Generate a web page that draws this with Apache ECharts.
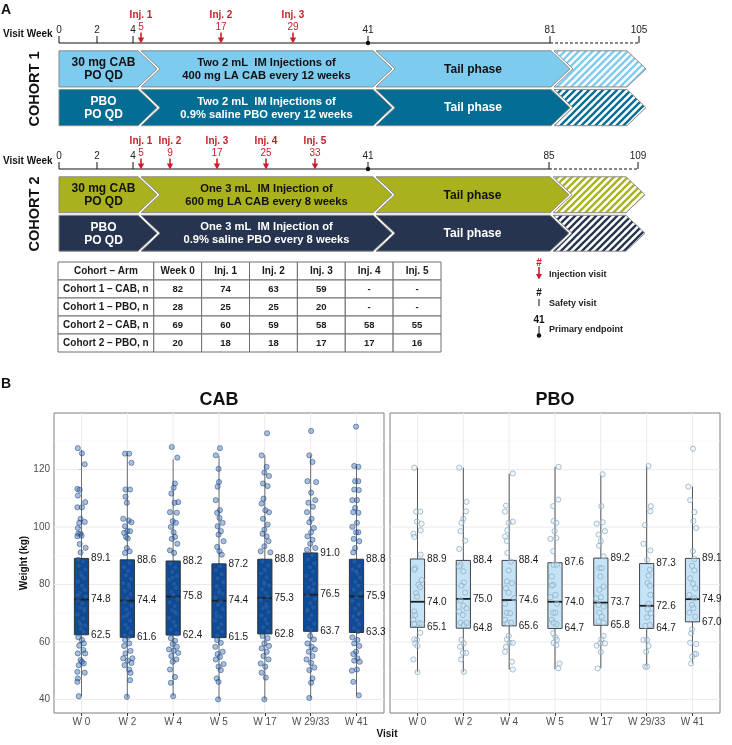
<!DOCTYPE html>
<html><head><meta charset="utf-8">
<script src="https://cdn.jsdelivr.net/npm/echarts@6/dist/echarts.min.js"></script>
<style>html,body{margin:0;padding:0;background:#fff}#c{width:732px;height:745px}</style>
</head><body><div id="c"></div>
<script>
// ================= DATA =================
// Panel A – study schema
const c1VisitWeeks = [0, 2, 4, 5, 17, 29, 41, 81, 105];
const c1VisitKinds = ['safety','safety','safety','inj','inj','inj','primary','end','end'];
const c2VisitWeeks = [0, 2, 4, 5, 9, 17, 25, 33, 41, 85, 109];
const c2VisitKinds = ['safety','safety','safety','inj','inj','inj','inj','inj','primary','end','end'];
const c1PhaseEnds = [5, 41, 81, 105];
const c2PhaseEnds = [5, 41, 85, 109];
const c1CabText = ['30 mg CAB\nPO QD', 'Two 2 mL  IM Injections of\n400 mg LA CAB every 12 weeks', 'Tail phase', ''];
const c1PboText = ['PBO\nPO QD', 'Two 2 mL  IM Injections of\n0.9% saline PBO every 12 weeks', 'Tail phase', ''];
const c2CabText = ['30 mg CAB\nPO QD', 'One 3 mL  IM Injection of\n600 mg LA CAB every 8 weeks', 'Tail phase', ''];
const c2PboText = ['PBO\nPO QD', 'One 3 mL  IM Injection of\n0.9% saline PBO every 8 weeks', 'Tail phase', ''];

// Panel A – table
const tableHeader = ['Cohort \u2013 Arm', 'Week 0', 'Inj. 1', 'Inj. 2', 'Inj. 3', 'Inj. 4', 'Inj. 5'];
const tableArms = ['Cohort 1 \u2013 CAB, n', 'Cohort 1 \u2013 PBO, n', 'Cohort 2 \u2013 CAB, n', 'Cohort 2 \u2013 PBO, n'];
const nC1Cab = [82, 74, 63, 59, null, null];
const nC1Pbo = [28, 25, 25, 20, null, null];
const nC2Cab = [69, 60, 59, 58, 58, 55];
const nC2Pbo = [20, 18, 18, 17, 17, 16];

// Panel B – weight boxplots
const visits = ['W 0', 'W 2', 'W 4', 'W 5', 'W 17', 'W 29/33', 'W 41'];
const yTicks = [40, 60, 80, 100, 120];
const yMinorTicks = [50, 70, 90, 110, 130];
const cabQ1  = [62.5, 61.6, 62.4, 61.5, 62.8, 63.7, 63.3];
const cabMed = [74.8, 74.4, 75.8, 74.4, 75.3, 76.5, 75.9];
const cabQ3  = [89.1, 88.6, 88.2, 87.2, 88.8, 91.0, 88.8];
const cabLo  = [41.1, 40.7, 41.1, 40.0, 40.0, 40.4, 41.4];
const cabHi  = [126.9, 125.6, 123.6, 124.8, 125.0, 125.0, 121.3];
const pboQ1  = [65.1, 64.8, 65.6, 64.7, 65.8, 64.7, 67.0];
const pboMed = [74.0, 75.0, 74.6, 74.0, 73.7, 72.6, 74.9];
const pboQ3  = [88.9, 88.4, 88.4, 87.6, 89.2, 87.3, 89.1];
const pboLo  = [49.5, 49.5, 50.4, 50.5, 50.8, 51.4, 52.5];
const pboHi  = [120.7, 120.7, 118.6, 121.0, 118.1, 121.3, 114.1];

// jittered individual weights: [jitter offset (category units), weight kg]
const cabPtsW0 = [[-0.08,127.5],[0.01,125.7],[0.07,121.9],[-0.09,113.3],[-0.04,113.0],[-0.08,111.0],[0.08,108.7],[-0.09,106.9],[0.01,106.9],[-0.02,102.9],[0.07,101.8],[-0.05,101.5],[-0.08,99.7],[-0.07,97.7],[-0.02,97.7],[0.0,97.0],[-0.09,96.8],[-0.04,94.1],[0.09,92.8],[-0.02,91.2],
 [-0.07,61.6],[0.01,60.7],[0.05,59.5],[-0.05,58.7],[0.04,57.2],[-0.08,56.0],[0.08,56.0],[-0.02,53.7],[0.01,53.1],[-0.06,51.9],[0.05,52.5],[-0.09,49.6],[0.07,49.3],[-0.08,47.3],[-0.09,46.1],[-0.06,41.1],
 [0.03,88.0],[-0.06,86.5],[0.08,85.2],[-0.02,84.0],[0.05,82.3],[-0.08,81.0],[0.01,79.6],[0.07,78.2],[-0.04,77.0],[0.09,75.9],[-0.07,74.5],[0.02,73.4],[-0.03,72.0],[0.06,70.8],[-0.09,69.5],[0.04,68.2],[-0.05,67.0],[0.08,65.8],[-0.01,64.5],[0.05,63.5],[-0.07,88.6],[0.0,83.1],[-0.08,76.3],[0.06,71.5],[-0.02,66.1]];
const cabPtsW2 = [[-0.05,125.6],[0.04,125.6],[0.09,122.4],[-0.04,113.1],[0.06,113.1],[-0.04,110.6],[-0.01,108.5],[-0.09,102.9],[0.03,102.3],[0.09,101.7],[-0.05,100.3],[0.0,98.6],[0.06,98.6],[-0.07,98.0],[-0.03,96.6],[0.01,96.1],[-0.01,92.7],[0.05,91.6],[-0.05,91.0],
 [0.02,61.8],[-0.05,60.7],[0.04,59.5],[-0.07,58.6],[0.07,56.9],[-0.04,56.0],[0.11,54.3],[-0.09,54.3],[0.01,53.5],[0.09,52.7],[-0.06,51.9],[0.04,50.4],[0.07,49.2],[0.06,46.7],[-0.01,40.9],
 [0.05,87.5],[-0.07,86.0],[0.02,84.8],[-0.03,83.2],[0.08,82.0],[-0.09,80.5],[0.04,79.1],[-0.05,77.8],[0.07,76.6],[0.0,75.3],[-0.06,74.0],[0.09,72.7],[-0.02,71.3],[0.03,70.0],[-0.08,68.8],[0.06,67.4],[-0.04,66.0],[0.01,64.8],[0.08,63.3],[-0.06,62.4],[0.03,80.0],[-0.01,69.2]];
const cabPtsW4 = [[-0.03,127.9],[0.09,124.2],[0.04,115.2],[0.01,113.7],[-0.04,111.7],[0.11,108.7],[0.03,108.5],[-0.07,105.2],[0.08,105.0],[-0.01,102.1],[0.06,101.5],[-0.05,100.1],[0.01,98.2],[0.04,96.6],[-0.03,95.9],[0.09,94.2],[-0.07,91.9],[0.02,91.0],
 [-0.05,61.3],[0.04,60.4],[-0.01,59.3],[0.08,58.3],[-0.09,57.4],[0.01,56.9],[0.11,56.2],[-0.04,55.1],[0.07,53.9],[-0.01,53.1],[-0.07,50.4],[0.04,47.8],[-0.05,45.8],[0.0,41.1],
 [-0.06,87.2],[0.04,85.9],[-0.02,84.4],[0.08,83.0],[-0.08,81.7],[0.02,80.2],[0.06,78.9],[-0.04,77.5],[0.0,76.4],[0.09,75.0],[-0.07,73.8],[0.03,72.5],[-0.03,71.0],[0.07,69.8],[-0.09,68.3],[0.01,67.0],[0.05,65.6],[-0.05,64.3],[0.08,63.0],[-0.01,82.4],[0.04,70.5]];
const cabPtsW5 = [[-0.07,125.0],[0.02,127.5],[-0.01,120.3],[0.0,115.7],[-0.03,114.1],[-0.07,109.4],[0.02,105.9],[-0.04,105.0],[0.01,103.2],[0.08,101.5],[-0.03,100.3],[0.04,98.6],[-0.01,97.4],[0.1,95.1],[-0.04,93.1],[0.01,91.6],[0.06,90.4],
 [-0.04,60.7],[0.04,59.7],[-0.08,58.3],[0.08,56.6],[-0.03,55.8],[0.02,54.8],[-0.07,53.9],[0.1,52.3],[-0.01,51.4],[0.04,50.2],[-0.05,47.3],[-0.01,46.1],[-0.02,40.0],
 [0.02,86.4],[-0.07,85.0],[0.06,83.6],[-0.03,82.1],[0.09,80.9],[-0.05,79.4],[0.01,78.0],[0.07,76.8],[-0.08,75.5],[0.04,74.0],[-0.02,72.9],[0.08,71.4],[-0.06,70.1],[0.03,68.8],[-0.09,67.5],[0.05,66.2],[-0.01,64.9],[0.07,63.6],[-0.04,62.3],[0.0,77.2],[-0.05,69.0]];
const cabPtsW17 = [[0.05,132.7],[-0.07,125.0],[0.04,121.0],[-0.01,119.0],[0.09,117.8],[-0.04,115.2],[0.06,114.3],[-0.03,109.9],[-0.07,108.2],[0.01,105.9],[0.09,105.2],[-0.04,102.9],[0.06,100.9],[-0.01,99.1],[-0.05,97.7],[0.04,96.8],[0.08,95.1],[-0.01,93.3],[-0.09,91.6],[0.12,91.2],
 [-0.05,62.1],[0.06,61.3],[-0.01,59.5],[0.09,58.6],[-0.07,57.8],[0.04,56.6],[-0.03,55.1],[0.08,53.9],[-0.09,52.5],[0.01,51.4],[-0.07,49.3],[0.02,47.6],[-0.01,40.0],
 [-0.05,88.0],[0.07,86.7],[0.0,85.1],[-0.08,83.9],[0.04,82.5],[-0.02,81.0],[0.09,79.7],[-0.06,78.3],[0.02,77.0],[0.06,75.8],[-0.09,74.6],[0.03,73.1],[-0.03,71.8],[0.08,70.4],[-0.07,69.2],[0.01,67.9],[0.05,66.5],[-0.04,65.1],[0.07,63.8],[-0.01,80.3],[0.04,72.2]];
const cabPtsW29 = [[0.01,133.5],[-0.03,125.0],[0.04,122.7],[-0.07,116.0],[0.12,115.7],[0.01,112.0],[0.1,109.4],[-0.05,108.5],[0.05,107.1],[-0.08,105.2],[0.02,102.9],[-0.03,101.7],[0.07,99.7],[0.01,98.2],[-0.07,96.8],[0.04,95.6],[-0.01,94.2],[0.1,92.7],[-0.08,92.1],
 [-0.01,62.1],[0.07,60.9],[-0.07,59.5],[0.02,58.3],[0.09,57.4],[-0.04,56.6],[0.04,55.1],[-0.09,53.9],[0.01,52.7],[0.08,51.1],[-0.03,50.2],[0.04,47.3],[0.01,45.8],[-0.03,40.5],
 [0.03,90.2],[-0.06,88.8],[0.08,87.4],[-0.02,86.0],[0.05,84.5],[-0.09,83.1],[0.01,81.7],[0.07,80.3],[-0.04,79.0],[0.04,77.6],[-0.07,76.2],[0.09,75.0],[-0.01,73.5],[0.06,72.1],[-0.08,70.7],[0.02,69.3],[-0.03,67.9],[0.08,66.4],[-0.05,65.0],[0.0,64.2],[0.05,78.3],[-0.06,71.2]];
const cabPtsW41 = [[-0.01,135.0],[-0.05,121.3],[0.04,121.0],[-0.03,116.0],[0.04,116.0],[-0.05,113.1],[0.05,112.9],[-0.09,109.4],[0.01,109.4],[-0.03,106.7],[0.04,105.0],[-0.07,105.2],[0.01,101.5],[-0.09,100.1],[-0.01,98.2],[0.04,98.2],[-0.06,95.9],[0.06,95.1],[-0.03,92.7],[-0.07,91.2],
 [-0.09,61.6],[0.02,60.7],[-0.05,59.5],[0.06,58.6],[-0.01,56.6],[-0.07,55.8],[0.02,54.3],[-0.05,53.5],[0.07,53.1],[-0.1,50.0],[0.01,50.4],[-0.07,46.1],[0.05,41.4],
 [-0.04,88.0],[0.06,86.6],[-0.08,85.2],[0.02,83.9],[0.08,82.4],[-0.02,81.0],[0.04,79.6],[-0.06,78.3],[0.09,77.0],[0.0,75.7],[-0.09,74.3],[0.05,73.0],[-0.03,71.6],[0.07,70.3],[-0.07,68.9],[0.01,67.6],[0.06,66.2],[-0.05,64.8],[0.03,63.8],[-0.01,84.6],[0.04,69.7]];

const pboPtsW0 = [[-0.07,120.7],[-0.03,105.4],[0.06,105.4],[-0.01,101.9],[0.09,101.2],[0.07,98.9],[-0.09,97.7],[-0.07,96.6],[0.07,90.4],
 [-0.05,85.7],[-0.07,85.2],[0.09,81.6],[0.02,79.9],[0.06,79.1],[-0.03,77.0],[-0.01,75.8],[-0.07,70.6],[-0.05,69.4],[-0.09,67.7],[0.04,66.5],[0.09,66.3],[-0.07,66.3],
 [0.06,63.2],[-0.07,60.9],[-0.01,60.7],[-0.05,59.5],[0.0,58.6],[-0.09,53.9],[0.0,49.5]];
const pboPtsW2 = [[-0.09,120.7],[0.07,108.8],[0.06,105.5],[0.0,102.9],[-0.04,101.5],[-0.06,98.6],[0.04,95.3],[-0.09,92.4],
 [-0.06,86.9],[-0.09,86.3],[0.0,84.6],[0.01,80.7],[-0.04,79.6],[0.04,77.2],[-0.06,74.4],[0.0,72.6],[0.07,71.7],[-0.09,70.6],[-0.01,69.4],[-0.06,66.7],[0.01,65.9],[0.07,66.7],
 [-0.04,60.7],[0.01,59.5],[-0.07,58.3],[-0.01,56.2],[0.06,56.2],[-0.05,53.9],[0.01,49.6]];
const pboPtsW4 = [[0.08,118.7],[-0.07,107.5],[-0.09,105.4],[0.08,101.9],[-0.01,101.5],[-0.04,98.9],[-0.09,96.8],[-0.05,95.1],[-0.04,91.0],
 [0.04,88.0],[-0.01,84.9],[-0.05,81.1],[0.06,80.5],[-0.07,78.7],[-0.01,77.2],[0.11,75.2],[-0.09,73.3],[-0.05,70.2],[0.02,70.0],[-0.09,67.7],[-0.04,66.5],[0.04,66.7],
 [-0.01,62.1],[-0.05,60.9],[0.01,59.7],[-0.07,58.3],[0.08,59.7],[-0.09,56.6],[0.06,53.1],[0.08,50.4]];
const pboPtsW5 = [[0.08,121.0],[0.07,109.6],[-0.04,107.3],[-0.03,102.1],[0.03,101.5],[-0.01,98.6],[-0.1,95.9],[0.03,96.2],[-0.04,91.6],
 [-0.03,86.9],[0.04,86.9],[-0.07,82.8],[-0.04,79.9],[-0.07,79.6],[0.01,76.4],[-0.1,75.6],[0.04,73.3],[-0.04,70.2],[0.01,70.2],[-0.07,67.7],[0.03,66.3],[-0.03,66.7],
 [-0.04,63.0],[0.01,61.6],[0.04,60.7],[-0.03,59.7],[0.03,58.9],[0.1,52.5],[0.07,50.8]];
const pboPtsW17 = [[0.04,118.4],[0.01,107.3],[-0.09,101.2],[0.04,101.7],[0.09,98.6],[-0.05,97.4],[0.0,95.1],[-0.04,93.5],[0.06,89.8],
 [-0.03,85.7],[0.02,85.7],[-0.01,82.8],[0.06,79.3],[-0.03,78.2],[0.0,75.6],[-0.1,75.2],[-0.05,72.9],[0.06,72.3],[-0.03,70.2],[0.02,68.8],[-0.05,67.1],[0.06,66.7],
 [0.06,62.1],[0.01,60.9],[-0.09,58.7],[0.09,59.5],[-0.01,59.5],[0.0,56.5],[-0.07,50.8]];
const pboPtsW29 = [[0.04,121.3],[0.09,107.3],[0.08,105.5],[-0.04,100.7],[-0.07,94.2],[0.08,91.9],[0.01,88.6],
 [0.07,85.2],[0.04,83.1],[0.02,80.5],[0.07,79.6],[0.08,76.4],[0.04,73.3],[0.02,71.4],[0.09,70.0],[0.01,68.6],[0.07,65.9],[-0.03,65.6],
 [-0.07,60.7],[0.01,60.7],[0.04,58.6],[-0.01,56.6],[-0.03,51.4],[0.01,51.4]];
const pboPtsW41 = [[0.01,127.3],[-0.09,114.1],[-0.05,109.4],[0.04,105.2],[0.02,102.1],[0.08,99.7],[0.01,91.6],[0.04,88.9],
 [-0.01,86.5],[0.04,84.9],[-0.05,82.2],[0.01,80.3],[0.06,78.7],[-0.07,76.4],[0.04,75.2],[-0.01,72.9],[0.02,71.7],[-0.07,70.2],[0.06,68.8],
 [-0.01,64.4],[-0.03,63.0],[-0.05,59.7],[0.08,59.3],[0.04,55.8],[0.08,55.8],[-0.01,54.8],[-0.03,52.5]];

// ================= LAYOUT / STYLE =================
const FONT = '"Liberation Sans", Arial, Helvetica, sans-serif';
const f = (size, bold) => (bold ? 'bold ' : '') + size + 'px ' + FONT;
// schematic (non-linear) horizontal positions of the visits, px from week 0
const c1Slots = [0, 38, 74, 82, 162, 234, 309, 491, 580];
const c2Slots = [0, 38, 74, 82, 111, 158, 207, 256, 309, 490, 579];
const PHASE_NUDGE = [-3, 5, 1, -12];
const DEPTH = 19, GAP = 3, AXIS_OFF = 6.5;
const RED = '#c8202b';
const Y_MIN = 35.25, Y_MAX = 139.75;
const BOX_W = 0.31;

function slotOf(weeks, slots, w) {
  for (let k = 0; k < weeks.length - 1; k++) {
    if (w >= weeks[k] && w <= weeks[k + 1]) {
      return slots[k] + (w - weeks[k]) / (weeks[k + 1] - weeks[k]) * (slots[k + 1] - slots[k]);
    }
  }
  return slots[slots.length - 1];
}

function stripePattern(color) {
  const s = 7, c = document.createElement('canvas');
  c.width = s; c.height = s;
  const g = c.getContext('2d');
  g.fillStyle = '#fff'; g.fillRect(0, 0, s, s);
  g.strokeStyle = color; g.lineWidth = 2.3; g.beginPath();
  for (let k = -s; k <= s; k += s) { g.moveTo(k - 1, s + 1); g.lineTo(k + s + 1, -1); }
  g.stroke();
  return c;
}

function txt(x, y, text, font, fill, align, valign, extra) {
  return Object.assign({ type: 'text', x, y, style: { text, font, fill: fill || '#222',
    textAlign: align || 'center', textVerticalAlign: valign || 'middle' } }, extra || {});
}

function cohortSeries(gi, weeks, kinds, slots, ends, cabText, pboText, cabColor, pboColor) {
  const texts = [cabText, pboText], colors = [cabColor, pboColor], txtColors = ['#111', '#fff'];
  const pats = [stripePattern(cabColor), stripePattern(pboColor)];
  const arrowData = [];
  [0, 1].forEach(r => ends.forEach((e, i) => arrowData.push([slotOf(weeks, slots, e), r, i])));
  const arrows = {
    type: 'custom', xAxisIndex: gi, yAxisIndex: gi, silent: true, z: 2, data: arrowData,
    renderItem(params, api) {
      const r = api.value(1), i = api.value(2);
      const c = api.coord([api.value(0), r]);
      const yc = c[1], hh = api.size([0, 1])[1] / 2 - 1.3;
      const S = c[0] + PHASE_NUDGE[i];
      const L = i === 0 ? api.coord([slotOf(weeks, slots, weeks[0]), r])[0]
        : api.coord([slotOf(weeks, slots, ends[i - 1]), r])[0] + PHASE_NUDGE[i - 1] + GAP;
      const top = yc - hh, bot = yc + hh;
      const pts = [[L, top], [S, top], [S + DEPTH, yc], [S, bot], [L, bot]];
      if (i > 0) pts.push([L + DEPTH, yc]);
      const fill = i === ends.length - 1 ? { image: pats[r], repeat: 'repeat' } : colors[r];
      const children = [{ type: 'polygon', shape: { points: pts }, style: { fill, stroke: '#8a8a8a', lineWidth: 1 } }];
      const t = texts[r][i];
      if (t) {
        const cx = ((i === 0 ? L + 10 : L + DEPTH) + S) / 2;
        children.push(txt(cx, yc + 0.5, t, f(i === 1 ? 11.2 : 12, true), txtColors[r], 'center', 'middle'));
        children[1].style.lineHeight = 13;
      }
      return { type: 'group', children };
    }
  };
  const axisData = [[slotOf(weeks, slots, weeks[0]), 0, slotOf(weeks, slots, ends[2]), slotOf(weeks, slots, weeks[weeks.length - 1])]];
  const axisLine = {
    type: 'custom', xAxisIndex: gi, yAxisIndex: gi, silent: true, z: 3, data: axisData,
    renderItem(params, api) {
      const ay = params.coordSys.y - AXIS_OFF;
      const x0 = api.coord([api.value(0), 0])[0], x1 = api.coord([api.value(2), 0])[0], x2 = api.coord([api.value(3), 0])[0];
      return { type: 'group', children: [
        { type: 'line', shape: { x1: x0, y1: ay, x2: x1, y2: ay }, style: { stroke: '#111', lineWidth: 1 } },
        { type: 'line', shape: { x1: x1, y1: ay, x2: x2, y2: ay }, style: { stroke: '#111', lineWidth: 1, lineDash: [3, 2] } }
      ] };
    }
  };
  const injNo = []; let n = 0;
  kinds.forEach(k => injNo.push(k === 'inj' ? ++n : 0));
  const visitMarks = {
    type: 'custom', xAxisIndex: gi, yAxisIndex: gi, silent: true, z: 4,
    data: weeks.map(w => [slotOf(weeks, slots, w), 0, w]),
    renderItem(params, api) {
      const k = params.dataIndex, kind = kinds[k], w = api.value(2);
      const x = api.coord([api.value(0), 0])[0];
      const ay = params.coordSys.y - AXIS_OFF;
      const ch = [];
      if (kind === 'inj') {
        ch.push({ type: 'line', shape: { x1: x, y1: ay - 10.5, x2: x, y2: ay - 4 }, style: { stroke: RED, lineWidth: 1.6 } });
        ch.push({ type: 'polygon', shape: { points: [[x - 3.2, ay - 5.5], [x + 3.2, ay - 5.5], [x, ay + 0.5]] }, style: { fill: RED } });
        ch.push(txt(x, ay - 15.5, String(w), f(10), RED));
        ch.push(txt(x, ay - 27.5, 'Inj. ' + injNo[k], f(10, true), RED));
      } else {
        ch.push({ type: 'line', shape: { x1: x, y1: ay - 7, x2: x, y2: ay }, style: { stroke: '#111', lineWidth: 1 } });
        ch.push(txt(x, ay - 12.5, String(w), f(10), '#222'));
        if (kind === 'primary') ch.push({ type: 'circle', shape: { cx: x, cy: ay, r: 2.2 }, style: { fill: '#111' } });
      }
      return { type: 'group', children: ch };
    }
  };
  return [arrows, axisLine, visitMarks];
}

// ---- table ----
const nRows = [nC1Cab, nC1Pbo, nC2Cab, nC2Pbo];
const tableCells = [];
for (let r = 0; r <= tableArms.length; r++) for (let c = 0; c < tableHeader.length; c++) tableCells.push([c, r]);
function cellText(c, r) {
  if (r === 0) return tableHeader[c];
  if (c === 0) return tableArms[r - 1];
  const v = nRows[r - 1][c - 1];
  return v == null ? '-' : String(v);
}
const tableSeries = {
  type: 'custom', xAxisIndex: 2, yAxisIndex: 2, silent: true, z: 2, data: tableCells,
  renderItem(params, api) {
    const c = api.value(0), r = api.value(1);
    const p0 = api.coord([c === 0 ? 0 : c + 1, r]), p1 = api.coord([c + 2, r + 1]);
    const isHead = r === 0 || c === 0;
    return { type: 'group', children: [
      { type: 'rect', shape: { x: p0[0], y: p0[1], width: p1[0] - p0[0], height: p1[1] - p0[1] }, style: { fill: '#fff', stroke: '#6e6e6e', lineWidth: 1 } },
      txt((p0[0] + p1[0]) / 2, (p0[1] + p1[1]) / 2, cellText(c, r), f(isHead ? 10 : 9.5, true), '#1a1a1a')
    ] };
  }
};

// ---- panel B ----
function gridLineSeries(gi) {
  return [{
    type: 'custom', xAxisIndex: gi, yAxisIndex: gi, silent: true, z: 1,
    data: visits.map((v, i) => [i, Y_MIN]),
    renderItem(params, api) {
      const cs = params.coordSys, x = api.coord([api.value(0), Y_MIN])[0];
      return { type: 'line', shape: { x1: x, y1: cs.y, x2: x, y2: cs.y + cs.height }, style: { stroke: '#ebebeb', lineWidth: 1 } };
    }
  }, {
    type: 'custom', xAxisIndex: gi, yAxisIndex: gi, silent: true, z: 1,
    data: yTicks.map(v => [0, v, 1]).concat(yMinorTicks.map(v => [0, v, 0])),
    renderItem(params, api) {
      const cs = params.coordSys, y = api.coord([0, api.value(1)])[1];
      const major = api.value(2) === 1;
      return { type: 'line', shape: { x1: cs.x, y1: y, x2: cs.x + cs.width, y2: y }, style: { stroke: major ? '#ebebeb' : '#f5f5f5', lineWidth: major ? 1 : 0.6 } };
    }
  }];
}

function boxSeries(gi, lo, q1, med, q3, hi, pts, sty) {
  const boxData = visits.map((v, i) => [i, lo[i], q1[i], med[i], q3[i], hi[i]]);
  const box = {
    type: 'custom', xAxisIndex: gi, yAxisIndex: gi, silent: true, z: 2, data: boxData,
    encode: { x: 0, y: [1, 2, 3, 4, 5] },
    renderItem(params, api) {
      const i = api.value(0);
      const pLo = api.coord([i, api.value(1)]), pQ1 = api.coord([i, api.value(2)]), pMed = api.coord([i, api.value(3)]),
            pQ3 = api.coord([i, api.value(4)]), pHi = api.coord([i, api.value(5)]);
      const hw = api.size([BOX_W, 0])[0] / 2, x = pLo[0];
      return { type: 'group', children: [
        { type: 'line', shape: { x1: x, y1: pLo[1], x2: x, y2: pHi[1] }, style: { stroke: sty.whisker, lineWidth: 1 } },
        { type: 'rect', shape: { x: x - hw, y: pQ3[1], width: 2 * hw, height: pQ1[1] - pQ3[1] }, style: { fill: sty.box, stroke: sty.boxStroke, lineWidth: 1 } },
        { type: 'line', shape: { x1: x - hw, y1: pMed[1], x2: x + hw, y2: pMed[1] }, style: { stroke: '#1e1e1e', lineWidth: 1.8 } }
      ] };
    }
  };
  const labels = {
    type: 'custom', xAxisIndex: gi, yAxisIndex: gi, silent: true, z: 6, data: boxData,
    encode: { x: 0, y: [1, 2, 3, 4, 5] },
    renderItem(params, api) {
      const i = api.value(0), hw = api.size([BOX_W, 0])[0] / 2;
      const ch = [2, 3, 4].map(d => {
        const p = api.coord([i, api.value(d)]);
        return txt(p[0] + hw + 2.5, p[1], api.value(d).toFixed(1), f(10), '#1a1a1a', 'left', 'middle');
      });
      return { type: 'group', children: ch };
    }
  };
  const scatter = {
    type: 'scatter', xAxisIndex: gi, yAxisIndex: gi, silent: true, z: 4, symbolSize: 5.2,
    data: pts.flatMap((arr, i) => arr.map(p => [i + p[0], p[1]])),
    itemStyle: sty.points
  };
  return [box, scatter, labels];
}

function bx(gi, showY) {
  return [{
    gridIndex: gi, type: 'value', min: -0.6, max: 6.6, splitNumber: 7,
    axisLine: { show: false }, splitLine: { show: false },
    axisTick: { show: true, customValues: visits.map((v, i) => i), length: 3, lineStyle: { color: '#333' } },
    axisLabel: { customValues: visits.map((v, i) => i), formatter: v => (Number.isInteger(v) && visits[v]) ? visits[v] : '',
      fontSize: 10, color: '#4d4d4d', fontFamily: FONT, margin: 4, showMinLabel: true, showMaxLabel: true }
  }, {
    gridIndex: gi, type: 'value', min: Y_MIN, max: Y_MAX,
    axisLine: { show: false }, splitLine: { show: false },
    axisTick: { show: showY, customValues: yTicks, length: 3, lineStyle: { color: '#333' } },
    axisLabel: { show: showY, customValues: yTicks, formatter: v => (v % 20 === 0 ? String(v) : ''),
      fontSize: 10, color: '#4d4d4d', fontFamily: FONT, margin: 4 }
  }];
}

const bxCab = bx(3, true), bxPbo = bx(4, false);

const option = {
  animation: false,
  backgroundColor: '#fff',
  grid: [
    { left: 59, top: 49.5, width: 600, height: 77.5 },
    { left: 59, top: 175.5, width: 600, height: 77 },
    { left: 58, top: 262, width: 383, height: 90 },
    { left: 54, top: 413, width: 330, height: 300, show: true, borderColor: '#7f7f7f', borderWidth: 1, backgroundColor: '#fff' },
    { left: 390, top: 413, width: 330, height: 300, show: true, borderColor: '#7f7f7f', borderWidth: 1, backgroundColor: '#fff' }
  ],
  xAxis: [
    { gridIndex: 0, type: 'value', min: 0, max: 600, show: false },
    { gridIndex: 1, type: 'value', min: 0, max: 600, show: false },
    { gridIndex: 2, type: 'value', min: 0, max: 8, show: false },
    bxCab[0], bxPbo[0]
  ],
  yAxis: [
    { gridIndex: 0, type: 'category', data: ['CAB', 'PBO'], inverse: true, show: false },
    { gridIndex: 1, type: 'category', data: ['CAB', 'PBO'], inverse: true, show: false },
    { gridIndex: 2, type: 'value', min: 0, max: 5, inverse: true, show: false },
    bxCab[1], bxPbo[1]
  ],
  series: [
    ...cohortSeries(0, c1VisitWeeks, c1VisitKinds, c1Slots, c1PhaseEnds, c1CabText, c1PboText, '#7dcbef', '#046d94'),
    ...cohortSeries(1, c2VisitWeeks, c2VisitKinds, c2Slots, c2PhaseEnds, c2CabText, c2PboText, '#a9b11f', '#26344f'),
    tableSeries,
    ...gridLineSeries(3), ...gridLineSeries(4),
    ...boxSeries(3, cabLo, cabQ1, cabMed, cabQ3, cabHi,
      [cabPtsW0, cabPtsW2, cabPtsW4, cabPtsW5, cabPtsW17, cabPtsW29, cabPtsW41],
      { whisker: '#6e6e6e', box: '#0b4c9b', boxStroke: '#333', points: { color: 'rgba(60,110,175,0.55)', borderColor: 'rgba(18,58,115,0.85)', borderWidth: 0.7 } }),
    ...boxSeries(4, pboLo, pboQ1, pboMed, pboQ3, pboHi,
      [pboPtsW0, pboPtsW2, pboPtsW4, pboPtsW5, pboPtsW17, pboPtsW29, pboPtsW41],
      { whisker: '#555', box: '#c3e3f6', boxStroke: '#444', points: { color: 'rgba(205,232,248,0.4)', borderColor: '#8ea7bd', borderWidth: 0.9 } })
  ],
  graphic: [
    txt(1, 10, 'A', f(14, true), '#111', 'left', 'middle'),
    txt(1, 384, 'B', f(14, true), '#111', 'left', 'middle'),
    txt(3, 34, 'Visit Week', f(10, true), '#111', 'left', 'middle'),
    txt(3, 161.5, 'Visit Week', f(10, true), '#111', 'left', 'middle'),
    txt(35, 89, 'COHORT 1', f(14.5, true), '#111', 'center', 'middle', { rotation: Math.PI / 2 }),
    txt(35, 214, 'COHORT 2', f(14.5, true), '#111', 'center', 'middle', { rotation: Math.PI / 2 }),
    // legend of panel A
    txt(539, 263, '#', f(10, true), RED),
    { type: 'line', shape: { x1: 539, y1: 267, x2: 539, y2: 275 }, style: { stroke: RED, lineWidth: 1.6 } },
    { type: 'polygon', shape: { points: [[536, 274], [542, 274], [539, 279.5]] }, style: { fill: RED } },
    txt(549, 275, 'Injection visit', f(9, true), '#222', 'left', 'middle'),
    txt(539, 293, '#', f(10, true), '#111'),
    { type: 'line', shape: { x1: 539, y1: 299, x2: 539, y2: 306 }, style: { stroke: '#111', lineWidth: 1 } },
    txt(549, 304, 'Safety visit', f(9, true), '#222', 'left', 'middle'),
    txt(539, 320, '41', f(10, true), '#111'),
    { type: 'line', shape: { x1: 539, y1: 326, x2: 539, y2: 335 }, style: { stroke: '#111', lineWidth: 1 } },
    { type: 'circle', shape: { cx: 539, cy: 335.5, r: 2.2 }, style: { fill: '#111' } },
    txt(549, 330, 'Primary endpoint', f(9, true), '#222', 'left', 'middle'),
    // panel B titles
    txt(219, 400, 'CAB', f(18, true), '#111'),
    txt(555, 400, 'PBO', f(18, true), '#111'),
    txt(24, 563, 'Weight (kg)', f(10, true), '#111', 'center', 'middle', { rotation: Math.PI / 2 }),
    txt(387, 734, 'Visit', f(10, true), '#111')
  ]
};

const chart = echarts.init(document.getElementById('c'), null, { renderer: 'canvas' });
chart.setOption(option);
</script>
</body></html>
